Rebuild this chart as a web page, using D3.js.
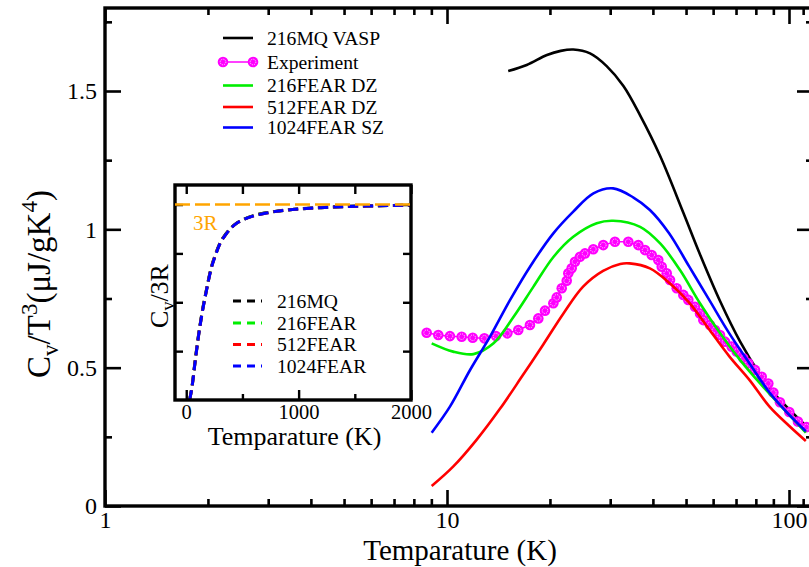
<!DOCTYPE html>
<html><head><meta charset="utf-8">
<script src="https://cdn.jsdelivr.net/npm/d3@7"></script>
<style>
html,body{margin:0;padding:0;background:#fff;}
svg{display:block;font-family:"Liberation Serif","Times New Roman",serif;}
</style></head>
<body>
<svg id="c" width="809" height="567"></svg>
<script>
// ---------- DATA ----------
const xMajorTicks = [1, 10, 100];
const xMinorTicks = [2,3,4,5,6,7,8,9,20,30,40,50,60,70,80,90,110];
const yMajorTicks = [0, 0.5, 1, 1.5];
const yMinorTicks = [0.25, 0.75, 1.25, 1.75];

const vaspT = [15.1,17.1,19.6,21.5,23.4,26.2,29.3,32.8,36.7,42.0,49.1,54.9,62.9,71.9,82.3,90,100,112];
const vaspV = [1.572,1.594,1.630,1.645,1.650,1.636,1.590,1.518,1.412,1.265,1.06,0.91,0.74,0.595,0.475,0.41,0.35,0.29];

const expT = [8.72,9.43,10.2,11.04,11.89,12.86,13.91,15.01,16.16,17.48,18.49,19.34,20.46,20.93,21.65,22.39,22.63,23.15,23.67,24.48,25.32,26.78,28.64,30.98,33.89,36.26,37.93,39.68,41.48,42.45,43.9,44.88,46.95,49.09,50.77,53.11,54.94,56.17,58.75,60.76,62.84,65.0,68.0,70.33,73.53,76.03,79.54,83.21,87.0,90.0,94.1,100.2,106.2,112.5];
const expV = [0.626,0.618,0.614,0.612,0.608,0.606,0.614,0.624,0.636,0.654,0.678,0.706,0.733,0.754,0.787,0.814,0.841,0.859,0.883,0.901,0.913,0.928,0.943,0.955,0.955,0.943,0.925,0.907,0.889,0.865,0.841,0.817,0.787,0.763,0.745,0.720,0.696,0.672,0.654,0.636,0.618,0.594,0.576,0.558,0.534,0.516,0.492,0.467,0.443,0.41,0.375,0.34,0.305,0.285];

const fear216T = [9.02,10.42,11.95,13.68,15.66,17.9,20.5,23.4,27.4,30.6,36.7,42.0,48.0,54.9,62.9,71.9,82.3,100,112];
const fear216V = [0.588,0.558,0.549,0.588,0.684,0.793,0.901,0.973,1.022,1.031,1.009,0.949,0.853,0.733,0.624,0.528,0.443,0.33,0.265];

const fear512T = [9.02,10.42,12.2,14.3,16.5,19.1,21.9,25.0,28.6,32.1,34.2,39.2,44.8,51.2,58.6,67.0,76.7,87.7,100,112];
const fear512V = [0.072,0.142,0.239,0.352,0.465,0.583,0.696,0.793,0.850,0.875,0.877,0.859,0.805,0.733,0.636,0.540,0.455,0.359,0.29,0.235];

const fear1024T = [9.02,10.2,11.68,13.36,15.28,17.49,20.46,23.4,26.8,30.6,35.1,39.2,44.6,51.1,58.5,66.9,76.6,87.7,100,112];
const fear1024V = [0.265,0.359,0.4915,0.612,0.744,0.865,0.9855,1.064,1.130,1.148,1.115,1.07,0.986,0.865,0.744,0.624,0.516,0.41,0.33,0.27];

const legendLabels = ["216MQ VASP","Experiment","216FEAR DZ","512FEAR DZ","1024FEAR SZ"];
const seriesColors = ["#000000","#ff00ff","#00ee00","#ff0000","#0000ff"];

// inset
const insetT = [30,50,80,110,140,180,220,260,300,350,400,450,500,600,700,800,900,1000,1200,1400,1600,1800,2000];
const inset216MQ   = [0.0,0.065,0.205,0.335,0.445,0.565,0.672,0.745,0.803,0.848,0.882,0.906,0.922,0.944,0.957,0.966,0.973,0.978,0.985,0.990,0.993,0.995,0.997];
const inset216FEAR = [0.0,0.062,0.202,0.332,0.442,0.562,0.670,0.742,0.801,0.846,0.880,0.905,0.921,0.943,0.956,0.965,0.972,0.977,0.984,0.989,0.992,0.995,0.997];
const inset512FEAR = [0.0,0.061,0.201,0.331,0.441,0.561,0.669,0.741,0.800,0.845,0.880,0.905,0.920,0.942,0.955,0.965,0.972,0.977,0.984,0.989,0.992,0.995,0.997];
const inset1024FEAR= [0.0,0.060,0.200,0.330,0.440,0.560,0.668,0.740,0.800,0.845,0.880,0.905,0.920,0.942,0.955,0.965,0.972,0.977,0.984,0.989,0.992,0.995,0.997];
const insetLabels = ["216MQ","216FEAR","512FEAR","1024FEAR"];
const insetColors = ["#000000","#00ee00","#ff0000","#0000ff"];
const insetXMajor = [0,1000,2000];
const insetXMinor = [500,1500];
const insetYTicks = [0.25,0.5,0.75,1];
const threeRValue = 1;

// ---------- LAYOUT ----------
const svg = d3.select("#c");
const L = 105, R = 813, T = 8, B = 506;
const x = d3.scaleLog().domain([1, Math.pow(10,(R-L)/342)]).range([L, R]);
const y = d3.scaleLinear().domain([0, 1.8]).range([B, T]);

svg.append("defs").append("clipPath").attr("id","pc")
  .append("rect").attr("x",L).attr("y",T).attr("width",R-L).attr("height",B-T);

function axes(){
  const fmt = d => d.toString();
  const ax = (gen, tr, size, vals, labels, pad) => {
    const g = svg.append("g").attr("transform", tr)
      .call(gen.tickValues(vals).tickSize(size).tickPadding(pad).tickFormat(labels ? fmt : ""));
    g.select(".domain").remove();
    g.selectAll("line").attr("stroke","#000").attr("stroke-width",2.6);
    g.selectAll("text").attr("font-family","Liberation Serif").attr("font-size",24).attr("fill","#000");
    return g;
  };
  ax(d3.axisBottom(x), `translate(0,${B})`, -16, xMajorTicks, true, 5);
  ax(d3.axisBottom(x), `translate(0,${B})`, -7, xMinorTicks, false, 0);
  ax(d3.axisTop(x), `translate(0,${T})`, -16, xMajorTicks, false, 0);
  ax(d3.axisTop(x), `translate(0,${T})`, -7, xMinorTicks, false, 0);
  ax(d3.axisLeft(y), `translate(${L},0)`, -16, yMajorTicks, true, 8);
  ax(d3.axisLeft(y), `translate(${L},0)`, -7, yMinorTicks, false, 0);
  ax(d3.axisRight(y), `translate(${R},0)`, -16, yMajorTicks, false, 0);
  ax(d3.axisRight(y), `translate(${R},0)`, -7, yMinorTicks, false, 0);
}
axes();

// curves
const plotG = svg.append("g").attr("clip-path","url(#pc)");
const line = d3.line().x(d=>x(d[0])).y(d=>y(d[1])).curve(d3.curveCatmullRom.alpha(0.5));
const zip = (a,b) => a.map((v,i)=>[v,b[i]]);
function curve(tv, vv, col){
  plotG.append("path").datum(zip(tv,vv)).attr("d",line)
    .attr("fill","none").attr("stroke",col).attr("stroke-width",2.6);
}
function marker(g, cx, cy){
  g.append("circle").attr("cx",cx).attr("cy",cy).attr("r",5.3).attr("fill","#ff00ff");
  g.append("circle").attr("cx",cx).attr("cy",cy).attr("r",2.8).attr("fill","none")
    .attr("stroke","#ffffff").attr("stroke-width",1).attr("stroke-dasharray","1.1,1.1").attr("opacity",0.8);
}
curve(vaspT, vaspV, seriesColors[0]);
const expData = zip(expT, expV);
plotG.append("path").datum(expData).attr("d", d3.line().x(d=>x(d[0])).y(d=>y(d[1])))
  .attr("fill","none").attr("stroke","#ff00ff").attr("stroke-width",1.5);
const mg = plotG.append("g");
expData.forEach(d => marker(mg, x(d[0]), y(d[1])));
curve(fear216T, fear216V, seriesColors[2]);
curve(fear512T, fear512V, seriesColors[3]);
curve(fear1024T, fear1024V, seriesColors[4]);

// frame
svg.append("rect").attr("x",L).attr("y",T).attr("width",R-L).attr("height",B-T)
  .attr("fill","none").attr("stroke","#000").attr("stroke-width",3.4);

// main legend
const legY = [38, 62, 85.5, 107, 127.5];
legendLabels.forEach((lab,i)=>{
  const g = svg.append("g");
  g.append("line").attr("x1",223).attr("x2",253).attr("y1",legY[i]).attr("y2",legY[i])
    .attr("stroke",seriesColors[i]).attr("stroke-width", i===1?1.5:2.6);
  if(i===1){ marker(g,223,legY[i]); marker(g,253,legY[i]); }
  g.append("text").attr("x",267).attr("y",legY[i]+6.5).attr("font-size",19.6).attr("fill","#000").text(lab);
});

// axis titles
svg.append("text").attr("x",(363+557)/2).attr("y",560).attr("text-anchor","middle")
  .attr("font-size",29).attr("fill","#000").text("Temparature (K)");

const yt = svg.append("text").attr("transform","translate(50,284) rotate(-90)")
  .attr("text-anchor","middle").attr("font-size",33).attr("fill","#000");
yt.append("tspan").text("C");
yt.append("tspan").attr("font-size",23).attr("dy",8).text("v");
yt.append("tspan").attr("dy",-8).text("/T");
yt.append("tspan").attr("font-size",23).attr("dy",-13).text("3");
yt.append("tspan").attr("dy",13).text("(\u03BCJ/gK");
yt.append("tspan").attr("font-size",23).attr("dy",-13).text("4");
yt.append("tspan").attr("dy",13).text(")");

// ---------- INSET ----------
const iL=175, iR=411, iT=185, iB=400;
const xi = d3.scaleLinear().domain([-100,2000]).range([iL,iR]);
const yi = d3.scaleLinear().domain([0,1.1]).range([iB,iT]);
svg.append("rect").attr("x",iL).attr("y",iT).attr("width",iR-iL).attr("height",iB-iT).attr("fill","#fff");

function iax(gen, tr, size, vals, labels){
  const g = svg.append("g").attr("transform",tr)
    .call(gen.tickValues(vals).tickSize(size).tickPadding(4).tickFormat(labels? (d=>d.toString()) : ""));
  g.select(".domain").remove();
  g.selectAll("line").attr("stroke","#000").attr("stroke-width",2.4);
  g.selectAll("text").attr("font-family","Liberation Serif").attr("font-size",20.5).attr("fill","#000");
}
iax(d3.axisBottom(xi), `translate(0,${iB})`, -10, insetXMajor, true);
iax(d3.axisBottom(xi), `translate(0,${iB})`, -6, insetXMinor, false);
iax(d3.axisTop(xi), `translate(0,${iT})`, -9, insetXMajor.concat(insetXMinor), false);
iax(d3.axisLeft(yi), `translate(${iL},0)`, -8, insetYTicks, false);
iax(d3.axisRight(yi), `translate(${iR},0)`, -8, insetYTicks, false);

const iline = d3.line().x(d=>xi(d[0])).y(d=>yi(d[1])).curve(d3.curveMonotoneX);
[inset216MQ, inset216FEAR, inset512FEAR, inset1024FEAR].forEach((vals,i)=>{
  svg.append("path").datum(zip(insetT, vals)).attr("d", iline)
    .attr("fill","none").attr("stroke",insetColors[i]).attr("stroke-width",3)
    .attr("stroke-dasharray","10,5");
});

svg.append("rect").attr("x",iL).attr("y",iT).attr("width",iR-iL).attr("height",iB-iT)
  .attr("fill","none").attr("stroke","#000").attr("stroke-width",3.4);

// 3R line
svg.append("line").attr("x1",iL).attr("x2",415).attr("y1",yi(threeRValue)).attr("y2",yi(threeRValue))
  .attr("stroke","#ffa500").attr("stroke-width",2.6).attr("stroke-dasharray","15,5");
svg.append("text").attr("x",193).attr("y",230).attr("font-size",21).attr("fill","#ffa500").text("3R");

// inset legend
const iLegY = [301, 323, 344.5, 366];
insetLabels.forEach((lab,i)=>{
  svg.append("line").attr("x1",233).attr("x2",262).attr("y1",iLegY[i]).attr("y2",iLegY[i])
    .attr("stroke",insetColors[i]).attr("stroke-width",3).attr("stroke-dasharray","8,6");
  svg.append("text").attr("x",277).attr("y",iLegY[i]+6.5).attr("font-size",19.6).attr("fill","#000").text(lab);
});

// inset titles
svg.append("text").attr("x",294.5).attr("y",445).attr("text-anchor","middle")
  .attr("font-size",26).attr("fill","#000").text("Temparature (K)");
const iyt = svg.append("text").attr("transform","translate(168,296) rotate(-90)")
  .attr("text-anchor","middle").attr("font-size",26).attr("fill","#000");
iyt.append("tspan").text("C");
iyt.append("tspan").attr("font-size",18).attr("dy",6).text("v");
iyt.append("tspan").attr("dy",-6).text("/3R");
</script>
</body></html>
